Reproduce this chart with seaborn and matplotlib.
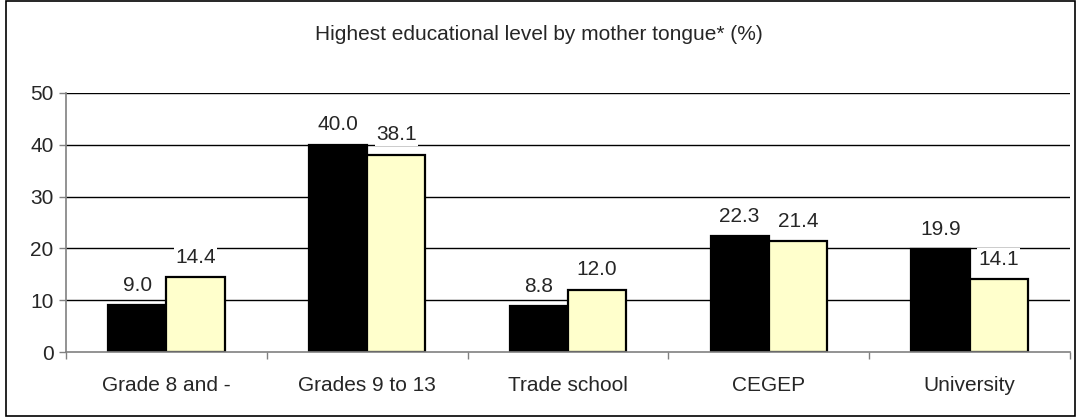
import matplotlib
matplotlib.use("Agg")
import matplotlib.pyplot as plt
import seaborn as sns
import pandas as pd
from matplotlib.patches import Rectangle

categories = ["Grade 8 and -", "Grades 9 to 13", "Trade school", "CEGEP", "University"]
series_names = ["Series A", "Series B"]
values_a = [9.0, 40.0, 8.8, 22.3, 19.9]
values_b = [14.4, 38.1, 12.0, 21.4, 14.1]
y_ticks = [0, 10, 20, 30, 40, 50]
title = "Highest educational level by mother tongue* (%)"

df = pd.DataFrame({
    "cat": categories * 2,
    "series": [series_names[0]] * len(categories) + [series_names[1]] * len(categories),
    "val": values_a + values_b,
})

sns.set_theme(style="white")
plt.rcParams["font.family"] = ["Liberation Sans", "DejaVu Sans"]

FS = 15

fig = plt.figure(figsize=(10.78, 4.17), dpi=100)
ax = fig.add_axes([66 / 1078, 1 - 352 / 417, (1070 - 66) / 1078, (352 - 93) / 417])

sns.barplot(data=df, x="cat", y="val", hue="series", order=categories,
            hue_order=series_names, palette=["#000000", "#FFFFCC"],
            edgecolor="black", linewidth=1.6, width=0.58, ax=ax,
            legend=False, saturation=1)

ax.set_ylim(0, 50)
ax.set_xlim(-0.5, len(categories) - 0.5)
ax.set_yticks(y_ticks)
ax.set_yticklabels([str(t) for t in y_ticks], fontsize=FS)
ax.set_xlabel("")
ax.set_ylabel("")
ax.tick_params(axis="x", which="major", length=0, labelsize=FS, pad=17)
ax.set_xticks([i - 0.5 for i in range(len(categories) + 1)], minor=True)
ax.tick_params(axis="x", which="minor", length=5, color="#808080", width=1, direction="out")
ax.tick_params(axis="y", length=5, color="#808080", width=1, direction="out", pad=4)
ax.yaxis.set_ticks_position("left")
ax.xaxis.set_ticks_position("bottom")

for t in y_ticks[1:]:
    ax.axhline(t, color="black", linewidth=1, zorder=0)

for s in ["top", "right"]:
    ax.spines[s].set_visible(False)
for s in ["left", "bottom"]:
    ax.spines[s].set_color("#808080")
    ax.spines[s].set_linewidth(1.2)

for container in ax.containers:
    for bar in container:
        h = bar.get_height()
        ax.annotate(f"{h:.1f}", (bar.get_x() + bar.get_width() / 2, h),
                    xytext=(0, 7.5), textcoords="offset points",
                    ha="center", va="bottom", fontsize=FS, zorder=5,
                    bbox=dict(facecolor="white", edgecolor="none", pad=1))

fig.text(0.5, 1 - 34 / 417, title, ha="center", va="center", fontsize=FS)

fig.patches.append(Rectangle((6 / 1078, 1 / 417), 1069 / 1078, 415 / 417,
                             transform=fig.transFigure, fill=False,
                             edgecolor="black", linewidth=1.2))

fig.savefig("out.png", dpi=100)
